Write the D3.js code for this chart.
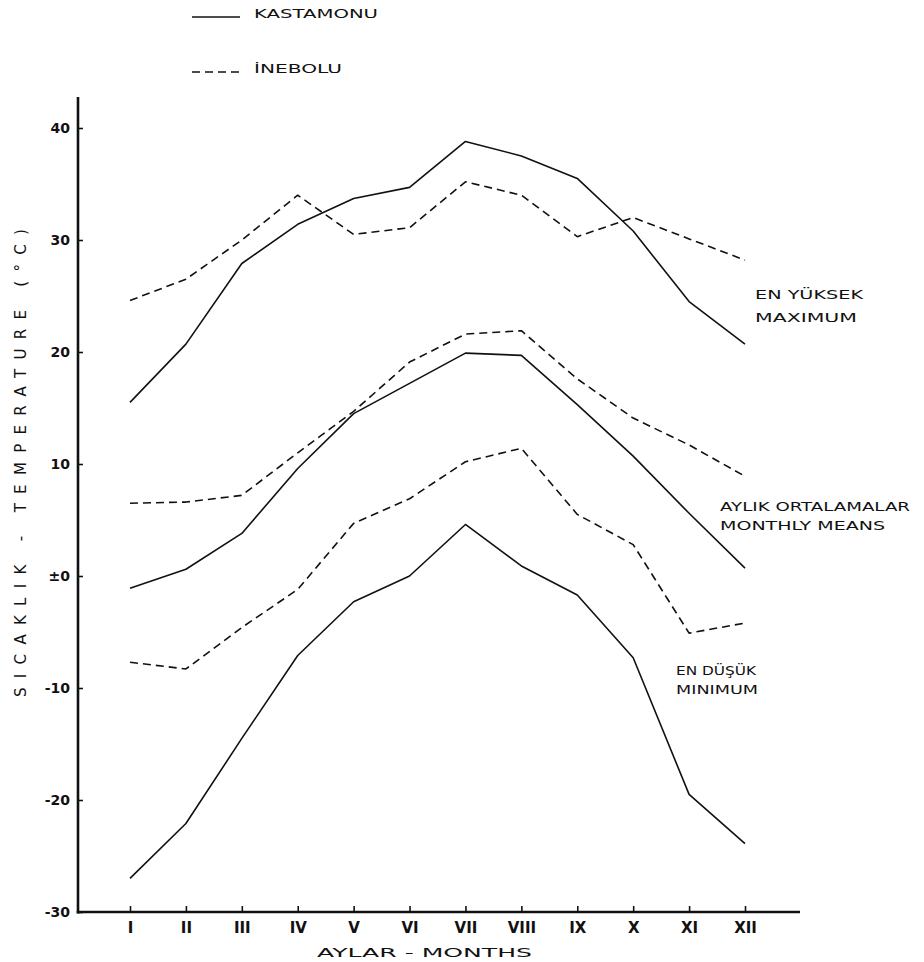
<!DOCTYPE html>
<html>
<head>
<meta charset="utf-8">
<script src="https://cdn.jsdelivr.net/npm/d3@7/dist/d3.min.js"></script>
<style>
  html, body { margin: 0; padding: 0; background: #ffffff; }
  svg { display: block; }
  text { font-family: "DejaVu Sans", sans-serif; fill: #111; }
</style>
</head>
<body>
<svg id="chart" width="924" height="962"></svg>
<script>
// ---- data (°C) ----
const months = ["I","II","III","IV","V","VI","VII","VIII","IX","X","XI","XII"];
const yTicks = [40, 30, 20, 10, 0, -10, -20, -30];
const yTickLabels = ["40", "30", "20", "10", "±0", "-10", "-20", "-30"];

const kastamonuMax  = [15.5, 20.7, 27.9, 31.4, 33.7, 34.7, 38.8, 37.5, 35.5, 30.8, 24.5, 20.7];
const kastamonuMean = [-1.1, 0.6, 3.8, 9.6, 14.5, 17.2, 19.9, 19.7, 15.3, 10.7, 5.6, 0.7];
const kastamonuMin  = [-27.0, -22.1, -14.5, -7.1, -2.3, 0.0, 4.6, 0.9, -1.7, -7.3, -19.5, -23.9];

const ineboluMax  = [24.6, 26.5, 30.0, 34.0, 30.5, 31.1, 35.2, 34.0, 30.3, 32.0, 30.1, 28.2];
const ineboluMean = [6.5, 6.6, 7.2, 11.0, 14.7, 19.1, 21.6, 21.9, 17.6, 14.1, 11.7, 8.9];
const ineboluMin  = [-7.7, -8.3, -4.6, -1.2, 4.7, 6.9, 10.2, 11.4, 5.5, 2.8, -5.1, -4.2];

const series = [
  { name: "Kastamonu", kind: "max",  values: kastamonuMax,  dashed: false },
  { name: "Kastamonu", kind: "mean", values: kastamonuMean, dashed: false },
  { name: "Kastamonu", kind: "min",  values: kastamonuMin,  dashed: false },
  { name: "İnebolu",   kind: "max",  values: ineboluMax,    dashed: true },
  { name: "İnebolu",   kind: "mean", values: ineboluMean,   dashed: true },
  { name: "İnebolu",   kind: "min",  values: ineboluMin,    dashed: true }
];

// ---- layout ----
const svg = d3.select("#chart");
const axisX0 = 78, axisX1 = 800, axisYTop = 97, axisYBottom = 912;

const x = d3.scalePoint().domain(months).range([130, 745]);
const y = d3.scaleLinear().domain([-30, 40]).range([912, 128]);

// y axis
const yAxis = d3.axisLeft(y)
  .tickValues(yTicks)
  .tickFormat((d, i) => yTickLabels[i])
  .tickSizeInner(-5)
  .tickSizeOuter(0)
  .tickPadding(8);
const gy = svg.append("g").attr("transform", `translate(${axisX0},0)`).call(yAxis);
gy.select(".domain").remove();
gy.selectAll(".tick line").attr("stroke", "#111").attr("stroke-width", 1.6);
gy.selectAll(".tick text")
  .attr("font-family", "DejaVu Sans, sans-serif")
  .attr("font-size", 14)
  .attr("font-weight", "bold")
  .attr("fill", "#111");

// x axis
const xAxis = d3.axisBottom(x)
  .tickSizeInner(-6)
  .tickSizeOuter(0)
  .tickPadding(10);
const gx = svg.append("g").attr("transform", `translate(0,${axisYBottom})`).call(xAxis);
gx.select(".domain").remove();
gx.selectAll(".tick line").attr("stroke", "#111").attr("stroke-width", 1.6);
gx.selectAll(".tick text")
  .attr("font-family", "Liberation Serif, DejaVu Serif, serif")
  .attr("font-size", 15)
  .attr("font-weight", "bold")
  .attr("fill", "#111");

// axis lines
svg.append("line").attr("x1", axisX0).attr("x2", axisX0)
  .attr("y1", axisYTop).attr("y2", axisYBottom + 1.5)
  .attr("stroke", "#111").attr("stroke-width", 2.6);
svg.append("line").attr("x1", axisX0 - 1.3).attr("x2", axisX1)
  .attr("y1", axisYBottom).attr("y2", axisYBottom)
  .attr("stroke", "#111").attr("stroke-width", 2.6);

// data lines
const line = d3.line().x((d, i) => x(months[i])).y(d => y(d));
svg.append("g").selectAll("path").data(series).join("path")
  .attr("d", d => line(d.values))
  .attr("fill", "none")
  .attr("stroke", "#111")
  .attr("stroke-width", 1.6)
  .attr("stroke-linejoin", "round")
  .attr("stroke-dasharray", d => d.dashed ? "8,5" : null);

// legend
const legend = [
  { label: "KASTAMONU", dashed: false, y: 17, w: 124 },
  { label: "İNEBOLU", dashed: true, y: 72, w: 88 }
];
const lg = svg.append("g");
legend.forEach(l => {
  lg.append("line").attr("x1", 192).attr("x2", 240).attr("y1", l.y).attr("y2", l.y)
    .attr("stroke", "#111").attr("stroke-width", 1.6)
    .attr("stroke-dasharray", l.dashed ? "8,5" : null);
  lg.append("text").attr("x", 254).attr("y", l.y + 1)
    .attr("font-size", 12).attr("textLength", l.w).attr("lengthAdjust", "spacingAndGlyphs")
    .text(l.label);
});

// annotations
const notes = [
  { text: "EN YÜKSEK", x: 755, y: 299, w: 108 },
  { text: "MAXIMUM", x: 755, y: 322, w: 102 },
  { text: "AYLIK ORTALAMALAR", x: 720, y: 511, w: 190 },
  { text: "MONTHLY MEANS", x: 720, y: 530, w: 165 },
  { text: "EN DÜŞÜK", x: 676, y: 675, w: 80 },
  { text: "MINIMUM", x: 676, y: 694, w: 82 }
];
svg.append("g").selectAll("text").data(notes).join("text")
  .attr("x", d => d.x).attr("y", d => d.y)
  .attr("font-size", 12)
  .attr("textLength", d => d.w).attr("lengthAdjust", "spacingAndGlyphs")
  .text(d => d.text);

// axis titles
svg.append("text").attr("x", 317).attr("y", 957)
  .attr("font-size", 13).attr("textLength", 215).attr("lengthAdjust", "spacingAndGlyphs")
  .text("AYLAR - MONTHS");
svg.append("text")
  .attr("transform", "translate(26,697) rotate(-90)")
  .attr("x", 0).attr("y", 0)
  .attr("font-size", 15).attr("textLength", 468).attr("lengthAdjust", "spacing")
  .text("SICAKLIK - TEMPERATURE (°C)");
</script>
</body>
</html>
